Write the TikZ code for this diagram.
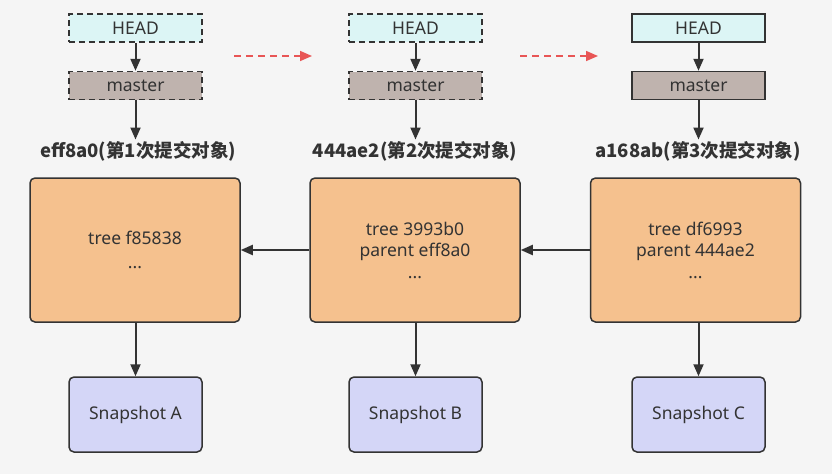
\documentclass[tikz,border=0pt]{standalone}
\usepackage{fontspec}
\setmainfont{Noto Sans}
\newfontfamily\cjk{Noto Sans CJK SC}
\usetikzlibrary{arrows.meta}
\definecolor{bg}{HTML}{F5F5F5}
\definecolor{edge}{HTML}{333333}
\definecolor{headfill}{HTML}{DCF5F5}
\definecolor{masterfill}{HTML}{BFB3AE}
\definecolor{commitfill}{HTML}{F5C18E}
\definecolor{snapfill}{HTML}{D4D6F7}
\definecolor{redarrow}{HTML}{E85555}
\begin{document}
\begin{tikzpicture}[x=1pt,y=-1pt,
  every node/.style={font=\fontsize{17.5}{21.5}\selectfont, text=edge},
  refbox/.style={draw=edge, line width=1.5pt, minimum width=133pt, minimum height=28pt, inner sep=0pt},
  headbox/.style={refbox, fill=headfill},
  masterbox/.style={refbox, fill=masterfill},
  ghost/.style={dash pattern=on 6pt off 4pt},
  commitbox/.style={draw=edge, line width=1.5pt, rounded corners=5pt, fill=commitfill, minimum width=210pt, minimum height=144pt, align=center, inner sep=0pt},
  snapbox/.style={draw=edge, line width=1.5pt, rounded corners=5pt, fill=snapfill, minimum width=133pt, minimum height=75pt, inner sep=0pt},
  lbl/.style={font=\cjk\bfseries\fontsize{18.5}{20}\selectfont, text=edge},
  conn/.style={draw=edge, line width=2pt, -{Triangle[length=12pt,width=10pt]}},
  move/.style={draw=redarrow, line width=1.6pt, dash pattern=on 7pt off 5pt, -{Triangle[length=12pt,width=10pt]}}
]
\fill[bg] (0,0) rectangle (832,474);
\useasboundingbox (0,0) rectangle (832,474);

% column 1
\node[headbox, ghost] (h1) at (135.5,28) {HEAD};
\node[masterbox, ghost] (m1) at (135.5,85.5) {master};
\node[lbl] (l1) at (138,151) {eff8a0(第1次提交对象)};
\node[commitbox] (c1) at (135,250) {tree f85838\\[2pt]...};
\node[snapbox] (s1) at (135.5,414.5) {Snapshot A};

% column 2
\node[headbox, ghost] (h2) at (415.5,28) {HEAD};
\node[masterbox, ghost] (m2) at (415.5,85.5) {master};
\node[lbl] (l2) at (415,151) {444ae2(第2次提交对象)};
\node[commitbox] (c2) at (415,250) {tree 3993b0\\parent eff8a0\\...};
\node[snapbox] (s2) at (415.5,414.5) {Snapshot B};

% column 3
\node[headbox] (h3) at (698.5,28) {HEAD};
\node[masterbox] (m3) at (698.5,85.5) {master};
\node[lbl] (l3) at (698,151) {a168ab(第3次提交对象)};
\node[commitbox] (c3) at (695.5,250) {tree df6993\\parent 444ae2\\...};
\node[snapbox] (s3) at (698.5,414.5) {Snapshot C};

% connectors
\foreach \i in {1,2,3} {
  \draw[conn] (h\i.south) -- (m\i.south |- m\i.north);
  \draw[conn] (m\i.south) -- ([yshift=-2pt]l\i.north -| m\i.south);
  \draw[conn] (c\i.south -| s\i.north) -- (s\i.north);
}
\draw[conn] (c2.west) -- (c1.east);
\draw[conn] (c3.west) -- (c2.east);

% moving HEAD/master
\coordinate (r1a) at (234,56);
\coordinate (r1b) at (312,56);
\coordinate (r2a) at (520,56);
\coordinate (r2b) at (598,56);
\draw[move] (r1a) -- (r1b);
\draw[move] (r2a) -- (r2b);
\end{tikzpicture}
\end{document}
